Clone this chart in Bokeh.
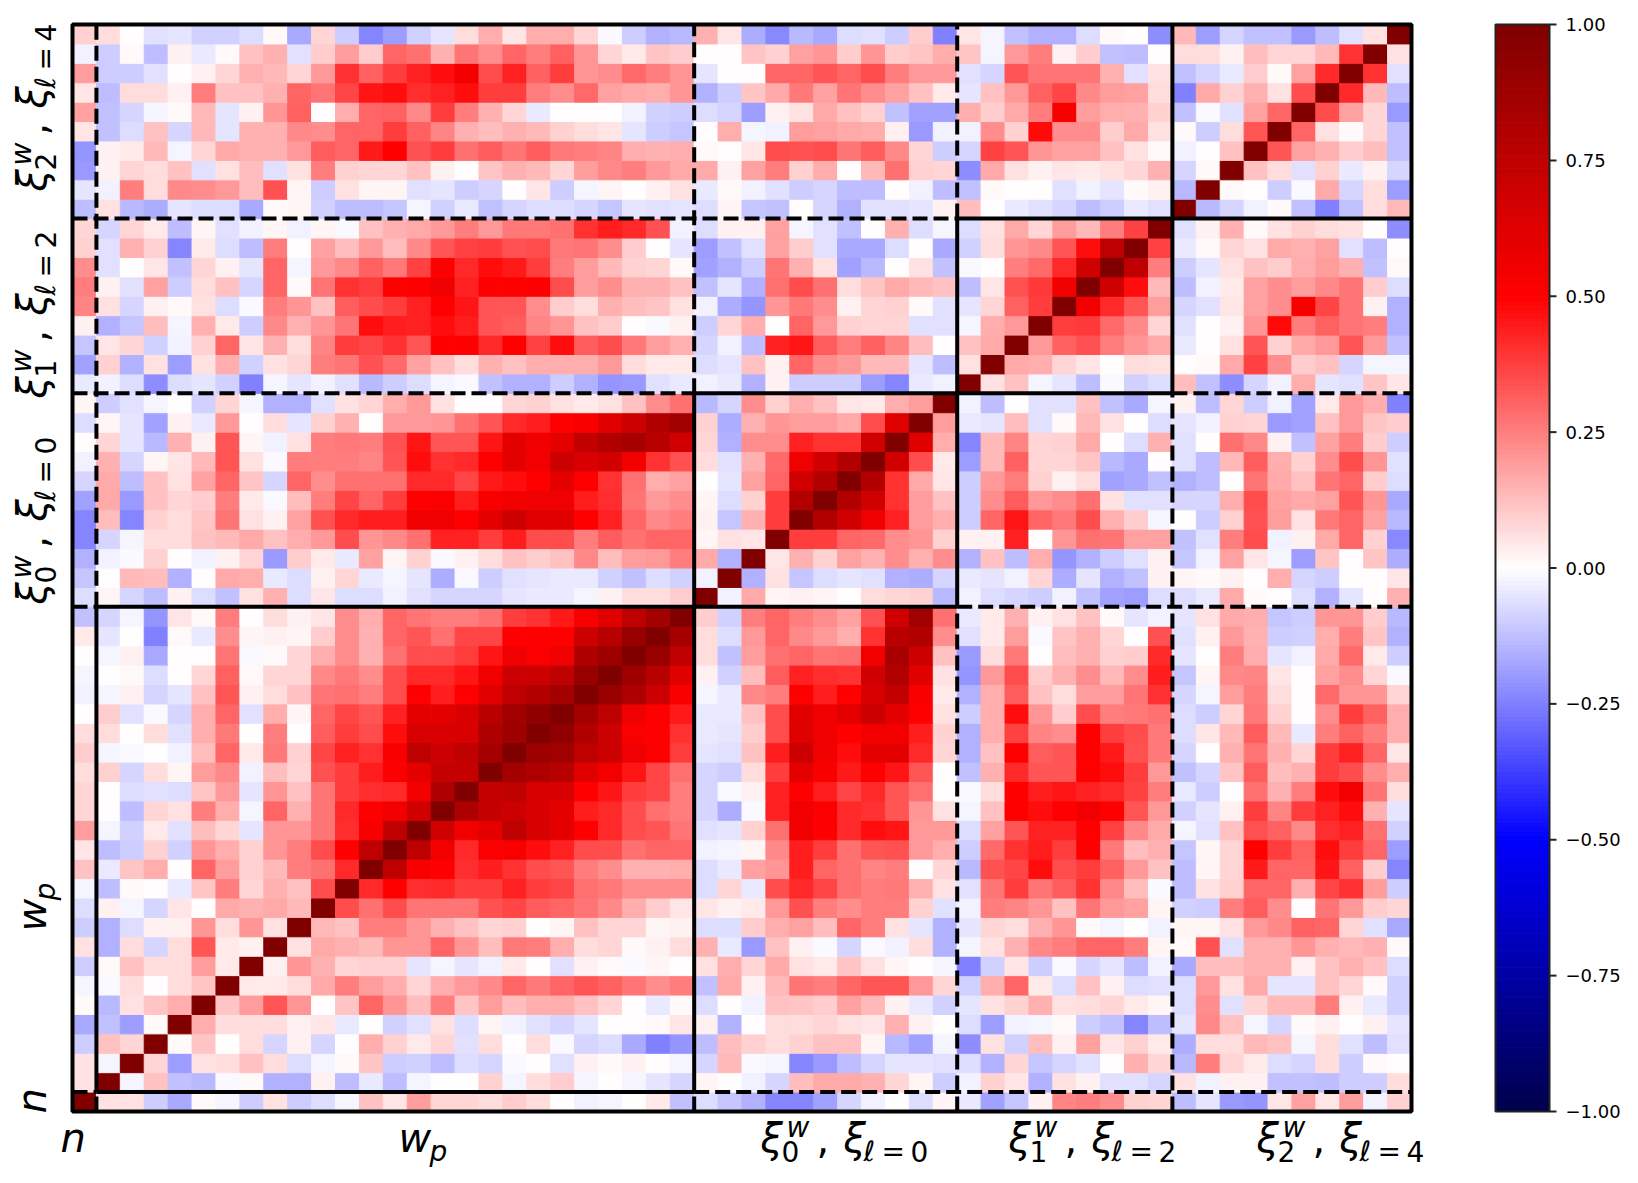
from math import pi
import numpy as np
from bokeh.core.properties import value
from bokeh.embed import file_html
from bokeh.models import ColumnDataSource, LinearColorMapper, Range1d
from bokeh.plotting import figure
from bokeh.resources import INLINE
from bokeh.transform import transform

block_sizes = [1, 25, 11, 9, 10]
cbar_ticks = [-1.0, -0.75, -0.5, -0.25, 0.0, 0.25, 0.5, 0.75, 1.0]
cbar_labels = ["\u22121.00", "\u22120.75", "\u22120.50", "\u22120.25", "0.00", "0.25", "0.50", "0.75", "1.00"]

# lower triangle of the symmetric correlation matrix, row i has columns 0..i
r00 = [1]
r01 = [.06, 1]
r02 = [.06, -.02, 1]
r03 = [-.1, .12, .08, 1]
r04 = [-.17, -.12, -.19, .01, 1]
r05 = [.01, -.14, .06, .11, .16, 1]
r06 = [-.02, -.01, .07, 0, .07, .11, 1]
r07 = [-.1, .01, .12, .07, .07, .19, .04, 1]
r08 = [.06, -.15, .07, -.08, .07, .33, .04, .03, 1]
r09 = [-.1, -.15, -.07, .03, .03, .21, .07, .21, .06, 1]
r10 = [-.07, .03, -.02, -.08, .05, 0, .17, .15, .17, .14, 1]
r11 = [-.02, -.13, .01, 0, -.04, .11, .25, .08, .15, .12, .35, 1]
r12 = [.12, -.04, .11, .16, 0, .3, .19, .09, .14, .25, .28, .42, 1]
r13 = [.05, -.13, -.1, .09, -.09, .21, .16, .09, .21, .25, .35, .5, .75, 1]
r14 = [.19, -.02, -.09, .04, -.06, .13, .08, -.05, .21, .21, .27, .41, .53, .75, 1]
r15 = [.08, 0, -.13, .08, .06, .25, .16, -.02, .3, .15, .27, .42, .5, .55, .68, 1]
r16 = [.08, 0, -.07, -.06, -.07, .11, .2, -.05, .21, .12, .27, .38, .41, .42, .55, .82, 1]
r17 = [.07, .09, -.08, .07, .02, .19, .23, -.03, .13, .08, .34, .38, .44, .52, .6, .72, .72, 1]
r18 = [.1, -.02, -.01, 0, -.03, .13, .3, .04, .26, .09, .36, .43, .4, .53, .75, .7, .75, .85, 1]
r19 = [.07, .07, 0, .07, -.06, .16, .26, 0, .25, 0, .32, .38, .35, .47, .65, .65, .65, .82, .88, 1]
r20 = [0, .1, -.06, -.01, -.08, .16, .3, -.06, .16, .02, .3, .36, .33, .43, .6, .6, .65, .78, .87, .93, 1]
r21 = [-.03, -.02, .03, -.08, -.05, .12, .33, .03, .07, .12, .27, .28, .25, .35, .5, .44, .5, .62, .75, .8, .85, 1]
r22 = [-.02, 0, .01, -.07, 0, .08, .31, .01, .08, .08, .23, .26, .22, .35, .42, .42, .46, .55, .7, .7, .75, .9, 1]
r23 = [0, -.02, .03, -.17, 0, 0, .27, -.01, .01, .08, .16, .22, .15, .28, .35, .35, .38, .46, .56, .52, .56, .82, .88, 1]
r24 = [.04, -.05, 0, -.25, .01, -.04, .22, .02, .03, .02, .1, .22, .15, .3, .33, .28, .36, .36, .5, .5, .5, .7, .78, .9, 1]
r25 = [-.12, -.08, -.02, -.21, .05, .01, .25, 0, .07, .03, .05, .22, .16, .3, .27, .25, .25, .28, .38, .4, .45, .53, .62, .75, .85, 1]
r26 = [-.07, .02, -.08, -.13, .03, -.07, -.12, .06, .15, -.07, .05, -.07, -.07, -.03, -.06, -.08, -.08, -.08, -.05, -.04, -.04, -.02, .03, .07, .07, .1, 1]
r27 = [-.11, 0, .14, .13, -.15, 0, .17, .16, -.04, -.07, .03, .08, -.04, -.02, -.05, -.16, -.01, -.1, -.06, -.05, -.04, -.04, -.09, -.12, -.07, -.09, -.03, 1]
r28 = [-.15, -.03, -.01, .09, 0, -.03, .03, .08, -.2, .1, .04, -.04, .18, .02, .09, -.01, .03, .07, .12, .1, .12, .23, .13, .19, .2, .25, .17, -.15, 1]
r29 = [-.24, -.08, -.02, .07, .07, .12, .14, .17, .12, .16, .2, .35, .21, .23, .28, .43, .43, .38, .44, .35, .35, .25, .32, .28, .3, .3, .02, .06, .05, 1]
r30 = [-.24, .13, -.24, .09, .07, .11, .27, .06, .03, .18, .34, .42, .44, .44, .56, .56, .5, .6, .7, .62, .62, .5, .43, .3, .23, .25, .03, -.11, .15, .38, 1]
r31 = [-.18, .17, -.2, .12, .08, .1, .25, .04, -.01, .13, .25, .36, .3, .38, .5, .52, .44, .53, .55, .56, .56, .44, .41, .27, .2, .22, .02, -.07, .09, .38, .8, 1]
r32 = [-.08, .17, -.13, .12, .06, .18, .3, .11, -.08, .3, .22, .28, .28, .28, .42, .42, .36, .45, .47, .5, .6, .5, .4, .28, .16, .18, 0, -.05, .18, .3, .68, .8, 1]
r33 = [-.03, .15, -.08, .02, .05, .14, .33, .06, -.01, .25, .25, .25, .24, .33, .47, .4, .42, .5, .6, .55, .7, .65, .68, .55, .4, .34, .07, -.06, .15, .29, .56, .68, .8, 1]
r34 = [0, .08, -.05, -.14, .15, .03, .33, .02, -.03, .06, .25, .26, .25, .34, .46, .33, .33, .46, .6, .55, .6, .73, .81, .84, .78, .68, .08, -.15, .22, .22, .43, .4, .4, .68, 1]
r35 = [-.07, .02, -.05, -.18, .03, -.04, .2, 0, .07, -.05, .09, .15, 0, .2, .2, .21, .28, .33, .42, .44, .5, .53, .62, .7, .81, .87, .09, -.16, .15, .21, .19, .19, .17, .35, .62, 1]
r36 = [.02, -.1, -.06, -.02, 0, -.09, .08, -.02, -.15, -.15, -.06, .06, .08, .16, .2, .06, 0, 0, .08, .09, .06, .04, .06, .12, .22, .28, -.14, -.08, .22, .09, .16, .12, .05, .04, .16, .19, 1]
r37 = [-.04, -.03, -.07, -.22, -.07, -.05, -.09, -.25, -.02, -.05, -.03, -.06, -.14, -.1, -.07, -.02, -.01, -.12, -.15, -.15, -.1, -.15, -.21, -.2, -.06, -.04, -.03, -.04, -.15, .03, -.1, -.1, -.1, -.19, -.24, -.04, -.03, 1]
r38 = [-.18, .09, -.15, .06, -.19, .06, .16, -.09, .06, .08, .25, .27, .34, .29, .18, .12, .07, .15, .12, .16, .16, .16, .2, .07, .04, .04, -.07, -.05, .12, .03, .3, .22, .2, .14, .14, -.05, -.13, .06, 1]
r39 = [-.11, .05, .08, -.09, -.03, .09, .3, .05, .15, .07, .24, .38, .36, .4, .33, .5, .5, .42, .5, .37, .47, .32, .35, .26, .19, .15, -.08, -.03, -.13, .43, .46, .32, .25, .31, .24, .13, 0, .12, .17, 1]
r40 = [.03, -.15, -.11, .13, -.02, .15, .04, -.1, .23, .15, .21, .27, .47, .44, .43, .47, .44, .33, .32, .24, .21, .12, .1, 0, -.01, .03, -.1, .08, .16, 0, .3, .2, .09, .08, .08, -.06, -.06, -.02, .16, .2, 1]
r41 = [.24, .06, -.08, .03, .01, .06, -.07, -.01, .25, .21, .12, .32, .35, .38, .43, .5, .46, .33, .33, .22, .1, .07, .15, .13, .11, .06, -.03, -.16, -.21, .21, .26, .22, .03, .08, .09, .01, -.06, -.05, .08, .31, .38, 1]
r42 = [.25, .03, -.06, .18, -.1, .07, .12, -.08, .3, .01, .27, .4, .38, .5, .5, .56, .43, .5, .5, .5, .35, .19, .22, .15, .15, .12, -.12, -.05, -.15, .28, .35, .28, .07, .11, .17, .14, .12, -.13, .05, .34, .39, .55, 1]
r43 = [.22, -.06, 0, .05, -.12, .08, .03, -.05, .3, -.02, .2, .23, .31, .26, .37, .5, .42, .47, .45, .38, .25, .19, .14, .09, .08, .01, -.18, -.15, -.1, .27, .15, .06, -.18, -.14, 0, .06, -.12, -.01, 0, .25, .29, .42, .68, 1]
r44 = [.09, -.06, .15, .09, -.24, .04, -.07, -.13, .25, 0, .18, .13, .2, .13, .23, .33, .37, .38, .34, .35, .26, .27, .22, .1, 0, -.05, -.19, -.12, -.06, .18, .1, -.06, -.17, -.17, -.07, 0, -.17, -.09, .07, .21, .23, .33, .47, .75, 1]
r45 = [.08, -.08, .08, .04, -.13, .02, -.06, -.03, .02, -.03, .02, -.01, .12, .15, .17, .2, .25, .2, .26, .26, .28, .4, .44, .42, .34, -.03, -.07, .03, .03, .18, -.02, -.06, -.12, 0, .15, -.07, -.02, -.07, .06, .17, .08, .19, .14, .25, .37, 1]
r46 = [-.13, .06, -.14, -.16, -.05, -.07, -.07, -.17, .01, .02, -.09, -.13, -.13, -.11, -.02, -.09, -.04, -.12, -.08, -.07, -.07, -.08, -.11, -.05, -.06, -.05, -.07, .02, -.11, -.12, 0, -.08, -.15, -.06, -.06, -.05, .03, .13, 0, -.04, -.06, -.08, -.13, -.1, -.04, -.06, 1]
r47 = [-.05, -.03, .25, .07, .23, .22, .2, .13, .34, .02, -.1, .06, .02, .02, -.06, -.05, -.1, -.08, 0, .05, -.1, -.02, .02, 0, .03, .06, -.04, .01, -.03, -.06, -.1, -.08, -.13, -.13, 0, -.03, -.13, -.12, .01, 0, 0, -.06, -.03, -.05, .01, .03, -.14, 1]
r48 = [-.2, .03, .08, .07, .12, -.06, .06, .13, -.06, .06, .25, .09, .08, .08, .12, .03, 0, .11, .15, .14, .08, .19, .23, .25, .2, .17, .17, .03, .18, .25, .09, .16, 0, .14, .28, .09, .08, -.22, .17, .06, .03, .05, .04, .06, .08, .15, -.08, .01, 1]
r49 = [-.21, .03, .04, .14, -.02, .08, .17, .15, .15, .2, .32, .3, .45, .5, .34, .38, .28, .32, .27, .32, .26, .25, .24, .16, .15, .16, .01, 0, .05, .35, .34, .35, .27, .32, .23, .08, -.1, -.08, .37, .33, .21, .18, .18, .12, .06, .01, -.03, 0, .12, 1]
r50 = [.05, -.12, -.07, .12, -.08, .14, -.05, .15, .15, .23, .22, .3, .3, .38, .31, .24, .15, .13, .15, .14, .09, .07, .05, -.05, -.1, -.11, 0, .16, -.02, -.03, .19, .18, .17, .16, .03, -.2, -.03, -.03, .22, .09, .48, .22, .22, .1, .17, .06, .01, -.1, .07, .33, 1]
r51 = [.18, -.12, -.08, -.02, .01, .14, -.05, .03, .21, .31, 0, .16, .3, .31, .23, .38, .25, .15, .08, -.04, 0, 0, 0, -.03, -.09, -.1, -.07, -.08, -.19, .03, .06, .17, .12, .09, -.12, -.18, -.18, .16, .1, .17, .25, .53, .19, .16, .15, .09, -.12, -.01, -.06, .18, .3, 1]
r52 = [.05, -.13, .07, .07, .03, .25, .12, .12, .15, .3, .27, .36, .46, .47, .41, .43, .47, .38, .38, .25, .22, .29, .18, .17, .16, .21, -.15, -.1, .11, .17, .26, .18, .27, .22, .18, .12, .04, -.05, .12, .2, .31, .36, .23, .19, .18, .07, -.25, .17, .09, .15, .06, .35, 1]
r53 = [.19, -.1, -.1, -.06, 0, .03, .08, .15, .14, .08, .2, .4, .31, .38, .43, .47, .55, .35, .43, .31, .38, .21, .22, .29, .25, .21, -.05, 0, 0, .3, .3, .33, .3, .35, .25, .2, .2, -.06, -.08, .33, .27, .27, .27, .15, -.06, .06, -.12, -.08, -.04, .1, .01, .18, .42, 1]
r54 = [-.03, -.1, .01, -.13, .03, -.04, .01, .12, .15, -.06, .1, .19, .1, .3, .28, .15, .27, .22, .3, .25, .31, .21, .08, .04, .11, .1, 0, 0, .11, .09, .18, .21, .1, .21, .1, .11, .16, .11, -.02, .2, .25, .03, .1, -.12, -.13, 0, .07, .07, .03, .13, .08, .08, .14, .4, 1]
r55 = [.09, .07, 0, -.06, -.05, -.09, -.09, -.07, .01, -.17, .08, -.1, -.24, -.19, -.09, -.05, .07, .16, .05, .16, .16, .08, -.01, -.1, -.15, -.14, .15, .05, -.16, -.23, -.14, -.17, -.07, -.06, -.1, .1, -.25, .05, -.02, -.12, -.15, -.15, -.07, .01, 0, -.22, .14, -.19, -.08, -.12, -.12, -.2, -.13, -.06, .06, 1]

tri = [r00, r01, r02, r03, r04, r05, r06, r07, r08, r09, r10, r11, r12, r13,
       r14, r15, r16, r17, r18, r19, r20, r21, r22, r23, r24, r25, r26, r27,
       r28, r29, r30, r31, r32, r33, r34, r35, r36, r37, r38, r39, r40, r41,
       r42, r43, r44, r45, r46, r47, r48, r49, r50, r51, r52, r53, r54, r55]

N = sum(block_sizes)
M = np.zeros((N, N))
for i, rowv in enumerate(tri):
    assert len(rowv) == i + 1, (i, len(rowv))
    for j, v in enumerate(rowv):
        M[i, j] = M[j, i] = v


def seismic(t):
    knots = [0.0, 0.25, 0.5, 0.75, 1.0]
    r = np.interp(t, knots, [0, 0, 1, 1, 0.5])
    g = np.interp(t, knots, [0, 0, 1, 0, 0])
    b = np.interp(t, knots, [0.3, 1, 1, 0, 0])
    return "#%02x%02x%02x" % (round(r * 255), round(g * 255), round(b * 255))


palette = [seismic(t) for t in np.linspace(0, 1, 256)]
mapper = LinearColorMapper(palette=palette, low=-1, high=1)

FRAME_L, FRAME_R, FRAME_T, FRAME_B = 72, 1411, 24, 1111
WIDTH = 1622
HEIGHT = 1175
sx = (FRAME_R - FRAME_L) / N
sy = (FRAME_B - FRAME_T) / N


def dx(px):
    return (px - FRAME_L) / sx


def dy(py):
    return (FRAME_B - py) / sy


p = figure(width=WIDTH, height=HEIGHT,
           x_range=Range1d(dx(0), dx(WIDTH)), y_range=Range1d(dy(HEIGHT), dy(0)),
           output_backend="svg", toolbar_location=None, tools="",
           min_border=0, x_axis_location=None, y_axis_location=None)
p.grid.visible = False
p.outline_line_color = None
p.background_fill_color = "white"

xs, ys = np.meshgrid(np.arange(N) + 0.5, np.arange(N) + 0.5)
src = ColumnDataSource(dict(x=xs.ravel(), y=ys.ravel(), v=M.ravel()))
p.rect("x", "y", width=1, height=1, source=src,
       fill_color=transform("v", mapper), line_color=transform("v", mapper), line_width=1)

edges = [int(e) for e in np.cumsum(block_sizes)[:-1]]
solid_span = {1: (1, 26), 26: (1, 37), 37: (26, 46), 46: (37, N)}
for e in edges:
    a, b = solid_span[e]
    dashed = [(0, a)] + ([(b, N)] if b < N else [])
    for s0, s1 in dashed:
        p.line([s0, s1], [e, e], line_color="black", line_width=4, line_dash="15 6")
        p.line([e, e], [s0, s1], line_color="black", line_width=4, line_dash="15 6")
    p.line([a, b], [e, e], line_color="black", line_width=4)
    p.line([e, e], [a, b], line_color="black", line_width=4)
p.quad(left=[0], right=[N], bottom=[0], top=[N], fill_color=None, line_color="black", line_width=4)

# axis-block labels built from real text runs
BIG = 40
SMALL = 28
FONT = "DejaVu Sans"
BASELINE_SHIFT = 0.37  # share of the font size by which the browser places this baseline low


def put(pen, base, off, text, size, italic, vertical):
    off = off - BASELINE_SHIFT * size
    px, py = (base + off, pen) if vertical else (pen, base + off)
    p.text(x=[dx(px)], y=[dy(py)], text=[text],
           text_font=value(FONT), text_font_size=value(f"{size}px"),
           text_font_style="italic" if italic else "normal",
           text_color="black", text_align="left", text_baseline="alphabetic",
           angle=pi / 2 if vertical else 0)


def xi_label(start, base, sub, ell, vertical):
    d = -1 if vertical else 1
    put(start, base, 0, "\u03be", BIG, True, vertical)
    put(start + d * 26, base, -15, "w", SMALL, True, vertical)
    put(start + d * 21, base, 9, sub, SMALL, False, vertical)
    put(start + d * 56, base, 0, ",", BIG, False, vertical)
    put(start + d * 83, base, 0, "\u03be", BIG, True, vertical)
    put(start + d * 103, base, 9, "\u2113", SMALL, True, vertical)
    put(start + d * 121, base, 9, "=", SMALL, False, vertical)
    put(start + d * 150, base, 9, ell, SMALL, False, vertical)


def wp_label(start, base, vertical):
    d = -1 if vertical else 1
    put(start, base, 0, "w", BIG, True, vertical)
    put(start + d * 31, base, 9, "p", SMALL, True, vertical)


XBASE = 1152
YBASE = 46
put(60, XBASE, 0, "n", BIG, True, False)
wp_label(398, XBASE, False)
xi_label(760, XBASE, "0", "0", False)
xi_label(1008, XBASE, "1", "2", False)
xi_label(1256, XBASE, "2", "4", False)

put(1113, YBASE, 0, "n", BIG, True, True)
wp_label(931, YBASE, True)
xi_label(604, YBASE, "0", "0", True)
xi_label(398, YBASE, "1", "2", True)
xi_label(191, YBASE, "2", "4", True)

# colour bar, drawn through the same scales as the matrix
CB_L, CB_R, TICK_LEN, LABEL_X = 1495, 1549, 7, 1565


def cb_y(v):
    return dy(FRAME_B + (FRAME_T - FRAME_B) * (np.asarray(v) + 1) / 2)


levels = np.linspace(-1, 1, 257)
p.quad(left=dx(CB_L), right=dx(CB_R), bottom=cb_y(levels[:-1]), top=cb_y(levels[1:]),
       fill_color=palette, line_color=palette, line_width=1)
p.quad(left=[dx(CB_L)], right=[dx(CB_R)], bottom=[cb_y(-1.0)], top=[cb_y(1.0)],
       fill_color=None, line_color="#222222", line_width=2)
p.segment(x0=dx(CB_R), x1=dx(CB_R + TICK_LEN), y0=cb_y(cbar_ticks), y1=cb_y(cbar_ticks),
          line_color="#222222", line_width=2)
p.text(x=dx(LABEL_X), y=cb_y(cbar_ticks), text=cbar_labels,
       text_font=value(FONT), text_font_size=value("18px"), text_color="black",
       text_align="left", text_baseline="middle")

open("out.html", "w").write(file_html(p, INLINE))
